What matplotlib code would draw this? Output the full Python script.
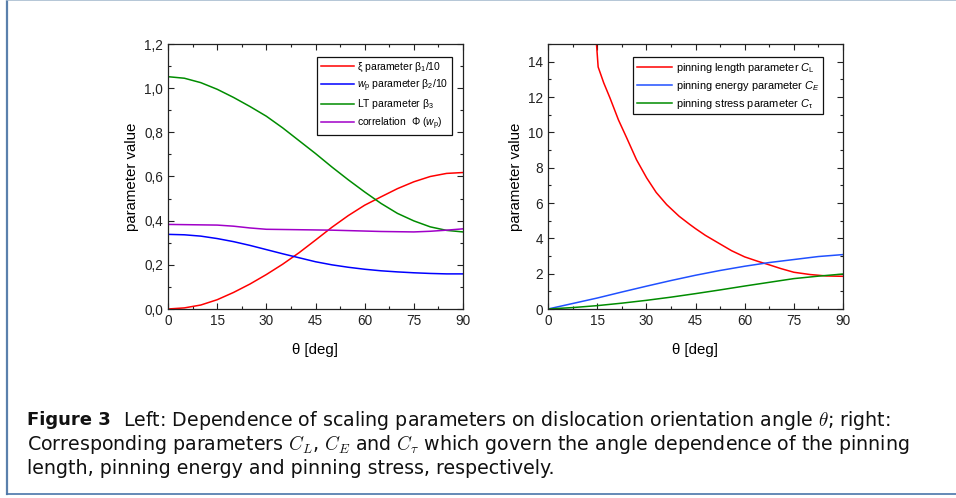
import matplotlib
matplotlib.use("Agg")
import matplotlib.pyplot as plt
from matplotlib.ticker import MultipleLocator, FuncFormatter
from matplotlib.lines import Line2D

plt.rcParams['font.family'] = ['Liberation Sans', 'DejaVu Sans']
plt.rcParams['mathtext.fontset'] = 'custom'
plt.rcParams['mathtext.rm'] = 'Liberation Sans'
plt.rcParams['mathtext.it'] = 'Liberation Sans:italic'
plt.rcParams['mathtext.bf'] = 'Liberation Sans:bold'

# ---- Left panel data ----
theta_l = [0, 5, 10, 15, 20, 25, 30, 35, 40, 45, 50, 55, 60, 65, 70, 75, 80, 85, 90]
xi_beta1 = [0.0, 0.005, 0.018, 0.042, 0.075, 0.113, 0.156, 0.203, 0.255, 0.312, 0.370, 0.423, 0.47, 0.508, 0.545, 0.576, 0.600, 0.614, 0.618]
wp_beta2 = [0.338, 0.336, 0.330, 0.319, 0.305, 0.288, 0.269, 0.250, 0.232, 0.214, 0.200, 0.189, 0.180, 0.173, 0.168, 0.164, 0.161, 0.159, 0.159]
lt_beta3 = [1.052, 1.045, 1.025, 0.995, 0.958, 0.917, 0.873, 0.820, 0.762, 0.704, 0.643, 0.585, 0.530, 0.478, 0.433, 0.399, 0.372, 0.356, 0.349]
phi_corr = [0.383, 0.382, 0.381, 0.380, 0.375, 0.367, 0.361, 0.360, 0.359, 0.358, 0.357, 0.355, 0.353, 0.351, 0.350, 0.349, 0.352, 0.357, 0.363]

# ---- Right panel data ----
theta_cl = [14.6, 15.3, 17, 18.9, 21.5, 24.0, 27, 30.1, 33, 36.2, 40, 43.3, 45, 48, 52.5, 56, 60, 64, 67.5, 71, 75, 80, 85, 90]
C_L = [15.5, 13.7, 12.8, 11.95, 10.7, 9.69, 8.45, 7.42, 6.6, 5.91, 5.25, 4.78, 4.55, 4.17, 3.68, 3.3, 2.95, 2.7, 2.5, 2.29, 2.08, 1.95, 1.87, 1.85]
theta_r = [0, 7.5, 15, 22.5, 30, 37.5, 45, 52.5, 60, 67.5, 75, 82.5, 90]
C_E = [0.0, 0.31, 0.62, 0.96, 1.29, 1.61, 1.91, 2.18, 2.42, 2.63, 2.80, 2.97, 3.08]
C_tau = [0.0, 0.08, 0.19, 0.33, 0.49, 0.67, 0.87, 1.08, 1.30, 1.51, 1.72, 1.86, 1.98]

xticks = [0, 15, 30, 45, 60, 75, 90]

fig = plt.figure(figsize=(9.56, 4.98), dpi=100)
W, H = 956, 498

def ax_rect(x0, x1, y0, y1):
    return [x0 / W, 1 - y1 / H, (x1 - x0) / W, (y1 - y0) / H]

axL = fig.add_axes(ax_rect(168, 463, 44, 309))
axR = fig.add_axes(ax_rect(548, 843, 44, 309))

comma = FuncFormatter(lambda v, p: ("%.1f" % v).replace('.', ','))

for ax in (axL, axR):
    ax.set_xlim(0, 90)
    ax.set_xticks(xticks)
    ax.xaxis.set_minor_locator(MultipleLocator(7.5))
    ax.tick_params(which='both', direction='in', top=True, right=True, labelsize=9.8, colors='#222222', pad=3.5)
    ax.tick_params(which='major', length=4, width=0.8)
    ax.tick_params(which='minor', length=2.2, width=0.8)
    for s in ax.spines.values():
        s.set_linewidth(0.9)
        s.set_color('#222222')
    ax.set_xlabel('θ [deg]', fontsize=10.8, labelpad=11)
    ax.set_ylabel('parameter value', fontsize=10.8, labelpad=4)

lw = 1.1
axL.plot(theta_l, xi_beta1, color='#ff0000', lw=lw, label='ξ parameter $\\mathrm{\\beta}_1$/10')
axL.plot(theta_l, wp_beta2, color='#0000ff', lw=lw, label='$w_\\mathrm{p}$ parameter $\\mathrm{\\beta}_2$/10')
axL.plot(theta_l, lt_beta3, color='#008c00', lw=lw, label='LT parameter $\\mathrm{\\beta}_3$')
axL.plot(theta_l, phi_corr, color='#a000c8', lw=lw, label='correlation  $\\Phi$ ($w_\\mathrm{p}$)')
axL.set_ylim(0, 1.2)
axL.yaxis.set_major_locator(MultipleLocator(0.2))
axL.yaxis.set_minor_locator(MultipleLocator(0.1))
axL.yaxis.set_major_formatter(comma)

axR.plot(theta_cl, C_L, color='#ff0000', lw=lw, label='pinning length parameter $C_\\mathrm{L}$')
axR.plot(theta_r, C_E, color='#2050ff', lw=lw, label='pinning energy parameter $C_E$')
axR.plot(theta_r, C_tau, color='#008c00', lw=lw, label='pinning stress parameter $C_\\mathrm{\\tau}$')
axR.set_ylim(0, 15)
axR.yaxis.set_major_locator(MultipleLocator(2))
axR.yaxis.set_minor_locator(MultipleLocator(1))

for ax, bb, fs in ((axL, (313, 57, 452, 137), 7.5), (axR, (632, 57, 823, 113), 7.9)):
    x0, y0, x1, y1 = bb
    leg = ax.legend(loc='upper right', fontsize=fs, frameon=True, fancybox=False,
                    edgecolor='#111111', framealpha=1, handlelength=3.2, handletextpad=0.3,
                    borderpad=0.35, labelspacing=0.35, borderaxespad=0,
                    bbox_to_anchor=(x1 / W, 1 - y0 / H), bbox_transform=fig.transFigure)
    leg.get_frame().set_linewidth(0.9)

# Caption
cap_line1 = 'Left: Dependence of scaling parameters on dislocation orientation angle $\\theta$; right:'
cap_line2 = 'Corresponding parameters $C_L$, $C_E$ and $C_\\tau$ which govern the angle dependence of the pinning'
cap_line3 = 'length, pinning energy and pinning stress, respectively.'

cap_kw = dict(family='DejaVu Sans', color='#111111', va='center', math_fontfamily='cm')
x_left = 27
fs0 = 11.5
probe = fig.text(0, 0, cap_line2, fontsize=fs0, **cap_kw)
fig.canvas.draw()
wprobe = probe.get_window_extent().width
probe.remove()
fs = fs0 * (912 - x_left) / wprobe

fig.text(x_left / W, 1 - 420 / H, 'Figure 3', fontweight='bold', fontsize=fs * 0.95, **cap_kw)
fig.text(123 / W, 1 - 420 / H, cap_line1, fontsize=fs, **cap_kw)
fig.text(x_left / W, 1 - 444 / H, cap_line2, fontsize=fs, **cap_kw)
fig.text(x_left / W, 1 - 468 / H, cap_line3, fontsize=fs, **cap_kw)

# Frame lines
fig.add_artist(Line2D([6.5 / W, 6.5 / W], [1 - 494 / H, 1], transform=fig.transFigure, color='#5a80ac', lw=1.6))
fig.add_artist(Line2D([6.5 / W, 1], [1 - 0.5 / H, 1 - 0.5 / H], transform=fig.transFigure, color='#a8bcd0', lw=1.2))
fig.add_artist(Line2D([6.5 / W, 1], [1 - 494 / H, 1 - 494 / H], transform=fig.transFigure, color='#4a76aa', lw=1.2))

fig.savefig('out.png', dpi=100)
